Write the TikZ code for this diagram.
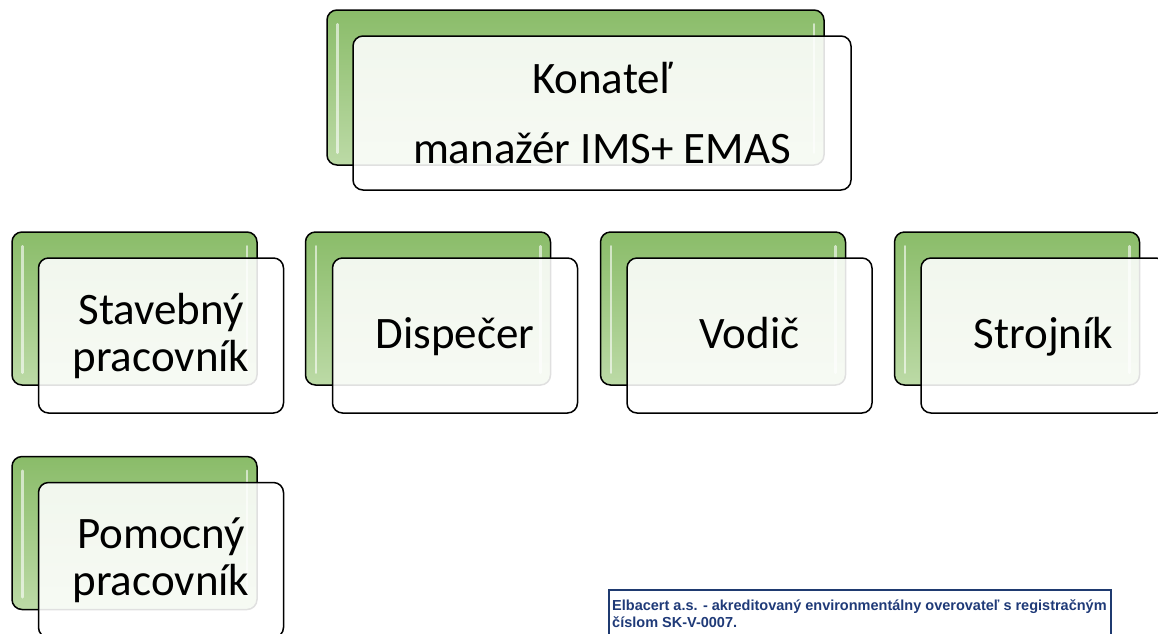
\documentclass[tikz,border=0pt]{standalone}
\usepackage{fontspec}
\setmainfont{Carlito}
\newfontfamily\footfont{Liberation Sans}
\usepackage{tikz}
\usetikzlibrary{calc}
\usepackage{color}
\definecolor{greenTop}{HTML}{8ABC69}
\definecolor{greenBottom}{HTML}{BCDAA6}
\definecolor{footBlue}{HTML}{1F3A70}
\definecolor{footText}{HTML}{1F3A78}

\begin{document}
\begin{tikzpicture}[x=1pt,y=-1pt]
			\tikzstyle{backBox}=[rectangle, draw=black, line width=1.5pt, rounded corners=10pt, top color=greenTop, bottom color=greenBottom, minimum width=245pt, minimum height=153pt, inner sep=0pt]
			\tikzstyle{frontBox}=[rectangle, draw=black, line width=1.5pt, rounded corners=10pt, fill=white, fill opacity=0.88, text opacity=1, minimum width=245pt, minimum height=155pt, inner sep=0pt, align=center, font=\fontsize{45}{47}\selectfont]
			\tikzstyle{oneLine}=[text height=35pt, text depth=10pt]
			\tikzstyle{shine}=[draw=white, line width=2.5pt, opacity=0.6, line cap=round]
			\clip (0, 0) rectangle (1158, 633);

			% green boxes behind
			\node[backBox, minimum width=497pt, minimum height=155pt] at (575.5, 87.5) (konatelBack) {};
			\node[backBox] at (134.5, 308.5) (stavebnyBack) {};
			\node[backBox] at (428, 308.5) (dispecerBack) {};
			\node[backBox] at (723, 308.5) (vodicBack) {};
			\node[backBox] at (1017, 308.5) (strojnikBack) {};
			\node[backBox] at (134.5, 533) (pomocnyBack) {};

			\foreach \b in {konatelBack, stavebnyBack, dispecerBack, vodicBack, strojnikBack, pomocnyBack} {
	  			\draw[shine] ($(\b.north west)+(11, 15)$) -- ($(\b.south west)+(11, -13)$);
	  			\draw[shine] ($(\b.north east)+(-11, 15)$) -- ($(\b.south east)+(-11, -13)$);
			}

			% front boxes with the texts
			\node[frontBox, minimum width=498pt, minimum height=154pt] at (602, 113) (konatelFront) {Konateľ\\[23pt]manažér IMS+ EMAS};
			\node[frontBox] at (161, 335.5) (stavebnyFront) {Stavebný\\pracovník};
			\node[frontBox, oneLine] at (455, 335.5) (dispecerFront) {Dispečer};
			\node[frontBox, oneLine] at (749.5, 335.5) (vodicFront) {Vodič};
			\node[frontBox, oneLine] at (1043.5, 335.5) (strojnikFront) {Strojník};
			\node[frontBox] at (161, 560) (pomocnyFront) {Pomocný\\pracovník};

			% footer
			\node[rectangle, draw=footBlue, line width=2pt, fill=white, anchor=north west, minimum width=502pt, minimum height=70pt] at (608, 589) (footerBox) {};
			\node[anchor=north west, align=left, inner sep=0pt, text=footText, font=\footfont\bfseries\fontsize{14.5}{17}\selectfont] at (612, 599) (footerText) {Elbacert a.s. - akreditovaný environmentálny overovateľ s registračným\\číslom SK-V-0007.};
		\end{tikzpicture}
\end{document}
